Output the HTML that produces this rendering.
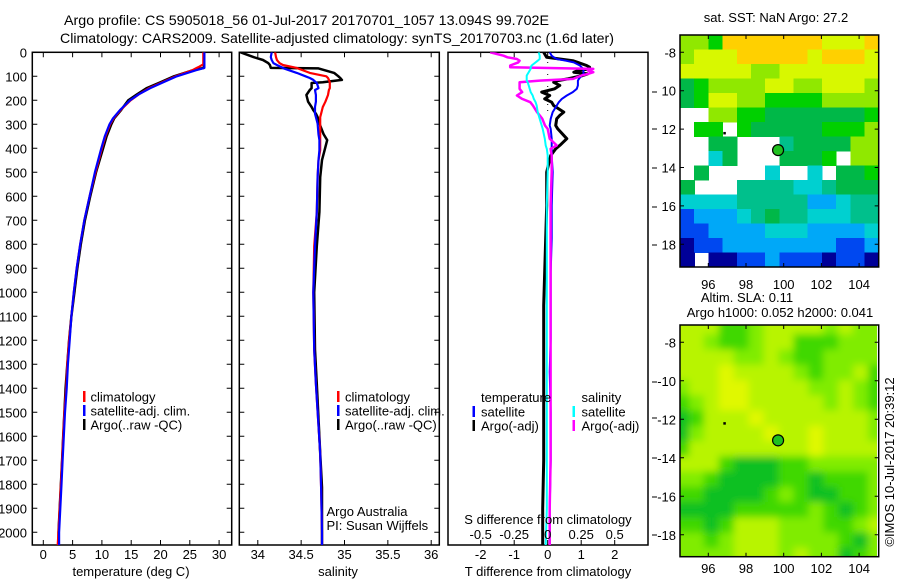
<!DOCTYPE html>
<html><head><meta charset="utf-8">
<style>
html,body{margin:0;padding:0;background:#fff;}
svg{display:block;font-family:"Liberation Sans",sans-serif;}
text{fill:#000;}
</style></head>
<body>
<svg id="c" xmlns="http://www.w3.org/2000/svg" width="900" height="580" viewBox="0 0 900 580">
<defs>
<clipPath id="cp1"><rect x="32.3" y="52.3" width="199.4" height="492.7"/></clipPath>
<clipPath id="cp2"><rect x="239.3" y="52.3" width="200" height="492.7"/></clipPath>
<clipPath id="cp3"><rect x="448" y="52.3" width="200" height="492.7"/></clipPath>
<clipPath id="cpm1"><rect x="680" y="35" width="198.7" height="232"/></clipPath>
<clipPath id="cpm2"><rect x="680" y="325" width="197" height="231.7"/></clipPath>
<filter id="blur" x="-5%" y="-5%" width="110%" height="110%"><feGaussianBlur stdDeviation="4"/></filter>
</defs>
<text x="64" y="25" font-size="14" textLength="485" lengthAdjust="spacingAndGlyphs">Argo profile: CS 5905018_56 01-Jul-2017 20170701_1057 13.094S 99.702E</text>
<text x="60" y="43" font-size="14" textLength="554" lengthAdjust="spacingAndGlyphs">Climatology: CARS2009. Satellite-adjusted climatology: synTS_20170703.nc (1.6d later)</text>
<g id="g"></g>
</svg>
<script>
// ---- profile data ----
const tDepth = [0,50,60,65,75,100,126,150,175,200,240,275,300,350,400,500,600,700,800,900,1000,1100,1200,1300,1400,1500,1600,1700,1800,1900,2000,2053];
const tClim = [27.3,27.3,26.6,26.2,25.4,22.6,20.2,18.0,16.3,14.9,13.2,12.0,11.4,10.6,10.0,8.9,7.9,7.0,6.3,5.7,5.2,4.8,4.4,4.1,3.9,3.6,3.4,3.2,3.0,2.8,2.6,2.45];
const tSat = [27.5,27.5,27.5,27.5,26.0,22.8,20.4,18.2,16.3,14.8,13.1,11.9,11.3,10.5,9.9,8.8,7.9,7.0,6.3,5.7,5.2,4.8,4.5,4.2,4.0,3.7,3.5,3.3,3.1,2.9,2.7,2.7];
const tArgo = [27.4,27.4,27.4,27.4,25.5,22.3,19.9,17.6,16.0,14.5,13.3,12.1,11.6,10.8,10.2,9.0,8.0,7.1,6.4,5.8,5.3,4.8,4.4,4.1,3.8,3.6,3.4,3.2,3.0,2.8,2.6,2.6];

const sDepth = [0,20,32,45,53,65,67,86,100,107,115,125,128,149,157,178,206,228,241,256,270,297,342,366,408,449,521,665,808,1000,1239,1382,1670,1813,2000,2053];
const sClim = [34.20,34.21,34.22,34.25,34.29,34.45,34.46,34.60,34.79,34.81,34.82,34.83,34.83,34.83,34.82,34.81,34.78,34.75,34.74,34.73,34.72,34.72,34.72,34.72,34.72,34.70,34.69,34.68,34.65,34.64,34.65,34.67,34.72,34.73,34.74,34.74];
const sSat = [34.16,34.15,34.16,34.18,34.22,34.29,34.30,34.45,34.55,34.60,34.64,34.67,34.68,34.70,34.66,34.67,34.67,34.66,34.66,34.66,34.67,34.69,34.70,34.71,34.71,34.70,34.69,34.68,34.66,34.64,34.65,34.67,34.72,34.73,34.74,34.74];
const sArgo = [33.80,33.95,34.06,34.12,34.14,34.15,34.70,34.88,34.93,34.95,34.97,34.75,34.62,34.62,34.60,34.56,34.58,34.62,34.64,34.67,34.69,34.71,34.76,34.80,34.77,34.74,34.72,34.71,34.68,34.65,34.66,34.68,34.72,34.74,34.74,34.74];

const dDepth = [0,14,21,28,35,42,55,62,69,76,83,90,97,111,118,125,138,152,166,180,194,208,222,249,263,277,305,319,360,388,402,430,499,638,776,915,1054,1192,1331,1500,1700,1900,2053];
const dTSat = [0.06,0.12,0.18,0.27,0.54,0.78,0.96,1.01,1.07,1.07,1.07,1.07,1.01,0.93,0.9,0.9,0.9,0.87,0.75,0.57,0.42,0.33,0.27,0.15,0.12,0.09,0.06,0.09,0.12,0.12,0.12,0.12,0.15,0.12,0.12,0.09,0.09,0.09,0.06,0.09,0.09,0.06,0.06];
const dTArgo = [-0.12,-0.06,-0.03,0.36,0.75,0.9,1.16,1.25,1.25,0.9,0.78,1.19,1.04,0.6,0.3,0.18,0.36,0.21,-0.18,0.06,-0.09,0.12,0.18,0.48,0.36,0.27,0.24,0.3,0.57,0.36,0.24,0.09,-0.03,-0.03,-0.06,-0.09,-0.12,-0.12,-0.12,-0.12,-0.12,-0.15,-0.15];
const dSSat = [-0.067,-0.06,-0.06,-0.06,-0.075,-0.09,-0.12,-0.127,-0.127,-0.134,-0.142,-0.149,-0.157,-0.157,-0.157,-0.149,-0.142,-0.134,-0.127,-0.112,-0.104,-0.09,-0.082,-0.075,-0.067,-0.06,-0.045,-0.037,-0.022,-0.015,-0.007,0,0,-0.007,-0.007,-0.007,-0.007,-0.007,-0.007,-0.007,-0.007,-0.007,-0.015];
const dSArgo = [-0.43,-0.33,-0.30,-0.23,-0.21,-0.22,-0.28,-0.28,0.34,0.30,0.34,0.30,0.25,0.19,-0.06,-0.21,-0.21,-0.21,-0.19,-0.23,-0.19,-0.13,-0.11,-0.08,-0.06,-0.04,-0.02,0,0.015,0.067,0.022,0.03,0.03,0.022,0.022,0.022,0.022,0.022,0.022,0.022,0.022,0.015,0.015];

// ---- tick labels ----
const depthTicks = [0,100,200,300,400,500,600,700,800,900,1000,1100,1200,1300,1400,1500,1600,1700,1800,1900,2000];
const tempTicks = [0,5,10,15,20,25,30];
const salTicks = [34,34.5,35,35.5,36];
const salTickLabels = ["34","34.5","35","35.5","36"];
const tDiffTicks = [-2,-1,0,1,2];
const sDiffTicks = [-0.5,-0.25,0,0.25,0.5];
const sDiffLabels = ["-0.5","-0.25","0","0.25","0.5"];
const lonTicks = [96,98,100,102,104];
const latTicks = [-8,-10,-12,-14,-16,-18];
const latLabels1 = ["-8","10","12","14","16","18"];
const latLabels2 = ["-8","-10","-12","-14","-16","-18"];

// ---- map grids (14 cols x 16 rows, level codes, '.' = missing) ----
const sstRows = [
"77699999998889","78889999989998","88888778888888","56777788778887",
"56887766667777","..776655555556",".66.6555556667","..55...4555577",
"..35...5556.77",".5....3..3.556","5...4444334555","33334444422344",
"12223454433344","11222233322223","01122222222112","0.001121110110"];
const slaRows = [
"44422344443433","44322344222333","44443343223333","44454444323342",
"34455444433432","23455444443432","12444544444443","13444454454443",
"24444444454444","44421112233333","33211112212223","22111123211223",
"11112222232123","22124443332234","33234443333213","33334443433123"];
const sstColors = ["#000098","#0048f0","#00a8f8","#00d0d0","#00c08c","#00b848","#00d000","#90e800","#d8f800","#ffd000"];
const slaColors = ["#10a858","#10c020","#40d800","#80ec00","#b8f400","#e0f800"];
const argoLon = 99.702, argoLat = -13.094;

// ---- scales ----
const depthY = d => 52.3 + d*0.24;
const p1x = t => 43.3 + t*5.86;
const p2x = s => 257.8 + (s-34)*86.7;
const p3xT = t => 547.7 + t*33.5;
const p3xS = s => 547.7 + s*134;
const lonX = lon => 708.3 + (lon-96)*18.85;
const lat1Y = lat => 52.3 + (-8-lat)*19.2;
const lat2Y = lat => 342.3 + (-8-lat)*19.25;

const NS = "http://www.w3.org/2000/svg";
const root = document.getElementById('g');
function mk(tag, attrs, parent){
  const e = document.createElementNS(NS, tag);
  for (const k in attrs) e.setAttribute(k, attrs[k]);
  (parent||root).appendChild(e);
  return e;
}
function txt(s, x, y, size, anchor, parent){
  const e = mk('text', {x:x, y:y, 'font-size':size, 'text-anchor':anchor||'start'}, parent);
  e.textContent = s;
  return e;
}
function line(xs, ds, fx, color, w, parent){
  const pts = xs.map((v,i)=> fx(v).toFixed(1)+','+depthY(ds[i]).toFixed(1)).join(' ');
  return mk('polyline', {points:pts, fill:'none', stroke:color, 'stroke-width':w, 'stroke-linejoin':'round'}, parent);
}
function box(x,y,w,h){
  return mk('rect',{x:x,y:y,width:w,height:h,fill:'none',stroke:'#000','stroke-width':1.5});
}

// ===== Panel 1: temperature =====
let e;
e = box(32.3,52.3,199.4,492.7);


depthTicks.forEach(d=>{
  const y = depthY(d);
  e = mk('path',{d:`M32.3 ${y}h5M231.7 ${y}h-5M239.3 ${y}h5M439.3 ${y}h-5`,stroke:'#000','stroke-width':1});
  
  
  e = txt(String(d), 27, y+5, 13, 'end');
  
  
});
tempTicks.forEach(t=>{
  const x = p1x(t);
  e = mk('path',{d:`M${x} 52.3v5M${x} 545v-5`,stroke:'#000','stroke-width':1});
  
  
  e = txt(String(t), x, 559, 13, 'middle');
  
  
});
e = txt('temperature (deg C)', 131, 576, 13, 'middle');


const g1 = mk('g',{'clip-path':'url(#cp1)'});
e = line(tArgo, tDepth, p1x, '#000', 2.5, g1);


e = line(tClim, tDepth, p1x, '#ff0000', 2.2, g1);


e = line(tSat, tDepth, p1x, '#0000ff', 2.2, g1);



function legend(x, tx, y, color, label, name){
  let r = mk('rect',{x:x,y:y-6,width:2.5,height:11,fill:color});
  
  
  let t = txt(label, tx, y+4.5, 13, 'start');
  
  
}
legend(83, 90.5, 397, '#ff0000', 'climatology', 'legend-climatology');
legend(83, 90.5, 411, '#0000ff', 'satellite-adj. clim.', 'legend-satellite');
legend(83, 90.5, 425, '#000', 'Argo(..raw -QC)', 'legend-argo');

// ===== Panel 2: salinity =====
e = box(239.3,52.3,200,492.7);


salTicks.forEach((s,i)=>{
  const x = p2x(s);
  e = mk('path',{d:`M${x} 52.3v5M${x} 545v-5`,stroke:'#000','stroke-width':1});
  
  
  e = txt(salTickLabels[i], x, 559, 13, 'middle');
  
  
});
e = txt('salinity', 338, 576, 13, 'middle');


const g2 = mk('g',{'clip-path':'url(#cp2)'});
e = line(sArgo, sDepth, p2x, '#000', 2.5, g2);


e = line(sClim, sDepth, p2x, '#ff0000', 2.2, g2);


e = line(sSat, sDepth, p2x, '#0000ff', 2.2, g2);


legend(337, 345, 397, '#ff0000', 'climatology', 'legend2-climatology');
legend(337, 345, 411, '#0000ff', 'satellite-adj. clim.', 'legend2-satellite');
legend(337, 345, 425, '#000', 'Argo(..raw -QC)', 'legend2-argo');
e = txt('Argo Australia', 326.5, 516, 13, 'start');


e = txt('PI: Susan Wijffels', 326.5, 530, 13, 'start');



// ===== Panel 3: differences =====
e = box(448,52.3,200,492.7);


tDiffTicks.forEach(t=>{
  const x = p3xT(t);
  e = mk('path',{d:`M${x} 52.3v5M${x} 545v-5`,stroke:'#000','stroke-width':1});
  
  
  e = txt(String(t), x, 559, 13, 'middle');
  
  
});
[92,129,168,207,245,382,418,458,497,535].forEach(y=>{
  e = mk('path',{d:`M652 ${y}h5`,stroke:'#000','stroke-width':1});
  
  
});
e = txt('T difference from climatology', 548, 576, 13, 'middle');


const g3 = mk('g',{'clip-path':'url(#cp3)'});
e = mk('line',{x1:547.7,y1:62,x2:547.7,y2:112,stroke:'#000','stroke-width':1,'stroke-dasharray':'1 5'},g3);


e = line(dTArgo, dDepth, p3xT, '#000', 3, g3);


e = line(dTSat, dDepth, p3xT, '#0000ff', 2, g3);


e = line(dSArgo, dDepth, p3xS, '#ff00ff', 2.5, g3);


e = line(dSSat, dDepth, p3xS, '#00ffff', 2, g3);


e = txt('temperature', 481, 402, 13, 'start');


e = txt('salinity', 581.5, 402, 13, 'start');


legend(472.5, 481, 412, '#0000ff', 'satellite', 'legend3-t-satellite');
legend(472.5, 481, 426, '#000', 'Argo(-adj)', 'legend3-t-argo');
legend(572.5, 581.5, 412, '#00ffff', 'satellite', 'legend3-s-satellite');
legend(572.5, 581.5, 426, '#ff00ff', 'Argo(-adj)', 'legend3-s-argo');
e = txt('S difference from climatology', 548, 524, 13, 'middle');


sDiffTicks.forEach((s,i)=>{
  e = txt(sDiffLabels[i], p3xS(s), 539, 13, 'middle');
  
  
});

// ===== Maps =====
function drawGrid(rows, colors, x0, y0, w, h, parent, name){
  const nr = rows.length, nc = rows[0].length;
  const cw = w/nc, ch = h/nr;
  rows.forEach((row,r)=>{
    for (let c=0;c<nc;c++){
      const ch0 = row[c];
      if (ch0 === '.') continue;
      const cell = mk('rect',{x:(x0+c*cw).toFixed(2),y:(y0+r*ch).toFixed(2),width:(cw+0.6).toFixed(2),height:(ch+0.6).toFixed(2),fill:colors[+ch0]},parent);
      
      
    }
  });
}
function mapAxes(yTop, yBot, latY, latLabels, lonLabelY, name){
  e = box(680, yTop, 198.7, yBot-yTop);
  
  
  lonTicks.forEach(l=>{
    const x = lonX(l);
    e = mk('path',{d:`M${x} ${yTop}v4M${x} ${yBot}v-4`,stroke:'#000','stroke-width':1});
    
    
    e = txt(String(l), x, lonLabelY, 13, 'middle');
    
    
  });
  latTicks.forEach((l,i)=>{
    const y = latY(l);
    e = mk('path',{d:`M680 ${y}h4M878.7 ${y}h-4`,stroke:'#000','stroke-width':1});
    
    
    e = txt(latLabels[i], 676, y+5, 13, 'end');
    
    
  });
}
function argoMarker(latY){
  const cx = lonX(argoLon), cy = latY(argoLat);
  e = mk('circle',{cx:cx,cy:cy,r:5.5,fill:'#20c020',stroke:'#000','stroke-width':1.2});
  
  
  e = mk('rect',{x:lonX(96.85)-1,y:latY(-12.2)-1,width:2.5,height:2.5,fill:'#000'});
  
  
}

// SST map
e = txt('sat. SST: NaN  Argo: 27.2', 776, 22, 13, 'middle');


const gm1 = mk('g',{'clip-path':'url(#cpm1)','shape-rendering':'crispEdges'});
drawGrid(sstRows, sstColors, 680, 35, 198.7, 232, gm1, 'sst-cell');
mapAxes(35, 267, lat1Y, latLabels1, 289, 'sst-map');
argoMarker(lat1Y);

// SLA map
e = txt('Altim. SLA: 0.11', 747, 302, 13, 'middle');


e = txt('Argo h1000: 0.052 h2000: 0.041', 780, 317, 13, 'middle');


const gm2c = mk('g',{'clip-path':'url(#cpm2)'});
mk('rect',{x:680,y:325,width:197,height:232,fill:'#b0f000'},gm2c);
const gm2 = mk('g',{filter:'url(#blur)'},gm2c);
drawGrid(slaRows, slaColors, 674, 319, 209, 244, gm2, 'sla-cell');
mapAxes(325, 556.7, lat2Y, latLabels2, 573, 'sla-map');
argoMarker(lat2Y);

e = txt('\u00A9IMOS 10-Jul-2017 20:39:12', 0, 0, 13, 'middle');
e.setAttribute('transform','translate(894,462) rotate(-90)');


</script>
</body></html>
